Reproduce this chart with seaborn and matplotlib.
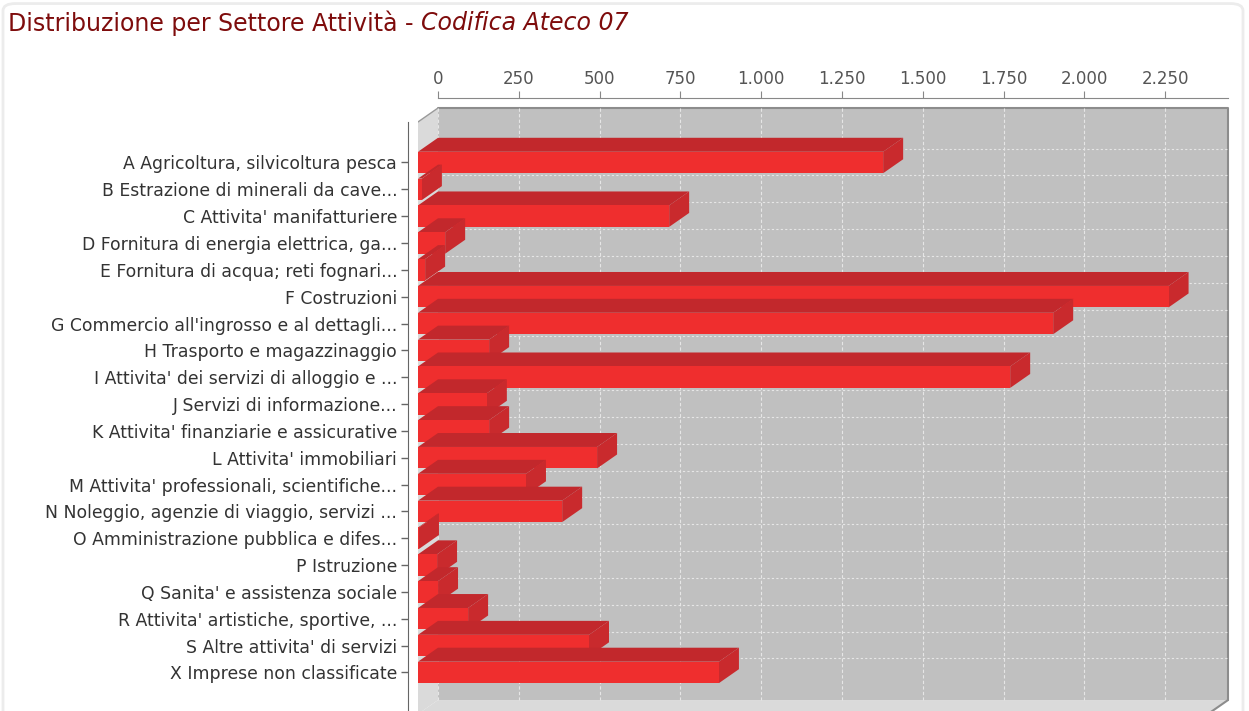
"""Distribuzione per Settore Attività - horizontal 3D-style bar chart."""

import matplotlib
matplotlib.use("Agg")
import matplotlib.pyplot as plt
import matplotlib.ticker as mticker
from matplotlib.patches import Polygon, FancyBboxPatch
import pandas as pd
import seaborn as sns

# --- data -------------------------------------------------------------------
categories = [
    "A Agricoltura, silvicoltura pesca",
    "B Estrazione di minerali da cave...",
    "C Attivita' manifatturiere",
    "D Fornitura di energia elettrica, ga...",
    "E Fornitura di acqua; reti fognari...",
    "F Costruzioni",
    "G Commercio all'ingrosso e al dettagli...",
    "H Trasporto e magazzinaggio",
    "I Attivita' dei servizi di alloggio e ...",
    "J Servizi di informazione...",
    "K Attivita' finanziarie e assicurative",
    "L Attivita' immobiliari",
    "M Attivita' professionali, scientifiche...",
    "N Noleggio, agenzie di viaggio, servizi ...",
    "O Amministrazione pubblica e difes...",
    "P Istruzione",
    "Q Sanita' e assistenza sociale",
    "R Attivita' artistiche, sportive, ...",
    "S Altre attivita' di servizi",
    "X Imprese non classificate",
]
imprese = [1439, 12, 777, 84, 22, 2322, 1965, 220, 1832, 213,
           220, 554, 334, 446, 3, 59, 62, 155, 529, 931]
tick_values = [0, 250, 500, 750, 1000, 1250, 1500, 1750, 2000, 2250]
axis_max = 2444

title_main = "Distribuzione per Settore Attività - "
title_sub = "Codifica Ateco 07"

# --- styling ----------------------------------------------------------------
W, H = 1249, 711
FRONT = "#ef2e2e"
TOP = "#c2282c"
SIDE = "#c92a2d"
WALL = "#c0c0c0"
SIDE_WALL = "#dadada"
TITLE_COLOR = "#7e0c0c"

DEPTH_PX = 20                     # horizontal depth of the 3D effect
DX = DEPTH_PX * axis_max / (810 - DEPTH_PX)
DY = -0.52                        # vertical depth, in category units
Y_TOP, Y_BOT = -2.03, 20.55       # axes limits (front plane, categories)

sns.set_style("white")
plt.rcParams["font.family"] = ["DejaVu Sans"]

fig = plt.figure(figsize=(W / 100, H / 100), dpi=100)
fig.patches.append(FancyBboxPatch((3 / W, -0.05), 1240 / W, 1.045,
                                  boxstyle="round,pad=0,rounding_size=0.01",
                                  transform=fig.transFigure, facecolor="none",
                                  edgecolor="#ececec", linewidth=2))

ax = fig.add_axes([418 / W, (H - 714) / H, 810 / W, 606 / H])
ax.set_facecolor("none")

df = pd.DataFrame({"settore": categories, "imprese": imprese})
sns.barplot(data=df, x="imprese", y="settore", orient="h", color=FRONT,
            saturation=1, width=0.8, linewidth=0, ax=ax)

xmax = axis_max + DX
ax.set_xlim(0, xmax)
ax.set_ylim(Y_BOT, Y_TOP)
yb_back = Y_BOT + DY

# walls
ax.add_patch(Polygon([(DX, Y_TOP), (xmax, Y_TOP), (xmax, yb_back), (DX, yb_back)],
                     facecolor=WALL, edgecolor="none", zorder=0))
ax.add_patch(Polygon([(0, Y_TOP - DY), (DX, Y_TOP), (DX, yb_back), (0, Y_BOT)],
                     facecolor=SIDE_WALL, edgecolor="none", zorder=0))
ax.add_patch(Polygon([(0, Y_BOT), (DX, yb_back), (xmax, yb_back), (xmax - DX, Y_BOT)],
                     facecolor=SIDE_WALL, edgecolor="none", zorder=0))
ax.plot([DX, xmax, xmax], [Y_TOP, Y_TOP, yb_back], color="#8c8c8c", lw=1.5,
        zorder=0.5, clip_on=False)
ax.plot([xmax, xmax - DX], [yb_back, Y_BOT], color="#8c8c8c", lw=1.5,
        zorder=0.5, clip_on=False)
ax.plot([0, DX], [Y_TOP - DY, Y_TOP], color="#9a9a9a", lw=1, zorder=0.5)

# dashed grid on the back wall
for t in tick_values:
    ax.plot([t + DX] * 2, [Y_TOP, yb_back], color="#e6e6e6", lw=0.8,
            ls=(0, (3, 2)), zorder=1)
for i in range(len(categories)):
    ax.plot([DX, xmax], [i + DY] * 2, color="#e6e6e6", lw=0.8,
            ls=(0, (2, 2)), zorder=1)

# 3D faces for every bar, later bars drawn over earlier ones
for i, bar in enumerate(ax.patches[:len(categories)]):
    x0, x1 = bar.get_x(), bar.get_x() + bar.get_width()
    yt, yb = bar.get_y(), bar.get_y() + bar.get_height()
    z = 3 + 3 * i
    ax.add_patch(Polygon([(x1, yt), (x1, yb), (x1 + DX, yb + DY), (x1 + DX, yt + DY)],
                         facecolor=SIDE, edgecolor="none", zorder=z))
    ax.add_patch(Polygon([(x0, yt), (x1, yt), (x1 + DX, yt + DY), (x0 + DX, yt + DY)],
                         facecolor=TOP, edgecolor="none", zorder=z + 1))
    bar.set_zorder(z + 2)

# axes: category axis on the left, value axis on top (back plane)
for s in ["top", "right", "bottom"]:
    ax.spines[s].set_visible(False)
ax.spines["left"].set_position(("outward", 7))
ax.spines["left"].set_bounds(Y_BOT, Y_TOP - DY)
ax.spines["left"].set_color("#666666")
ax.set_xticks([])
ax.set_xlabel("")
ax.set_ylabel("")
ax.tick_params(axis="y", length=5, width=1, color="#666666", labelsize=12.4,
               labelcolor="#333333", pad=3, left=True)

sec = ax.secondary_xaxis(1 + 10 / 606, functions=(lambda x: x - DX, lambda x: x + DX))
sec.set_xticks(tick_values)
sec.xaxis.set_major_formatter(
    mticker.FuncFormatter(lambda v, p: f"{int(v):,}".replace(",", ".")))
sec.spines["top"].set_color("#888888")
sec.spines["top"].set_bounds(0, axis_max)
sec.tick_params(axis="x", length=5, color="#888888", labelsize=12,
                labelcolor="#555555", pad=2)

# title
t1 = fig.text(8 / W, 1 - 23 / H, title_main, fontsize=17, color=TITLE_COLOR,
              va="center", ha="left")
renderer = fig.canvas.get_renderer()
bb = t1.get_window_extent(renderer)
fig.text(bb.x1 / W, 1 - 23 / H, title_sub, fontsize=17, color=TITLE_COLOR,
         style="italic", va="center", ha="left")

fig.savefig("out.png", dpi=100)
